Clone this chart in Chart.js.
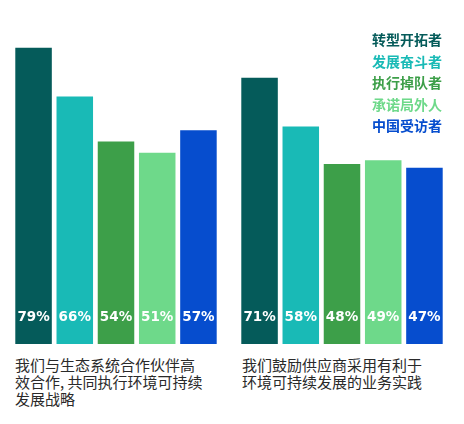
<!DOCTYPE html>
<html>
<head>
<meta charset="utf-8">
<script src="https://cdn.jsdelivr.net/npm/chart.js@4"></script>
<style>
    body { margin: 0; background: #fff; width: 464px; height: 424px; position: relative; overflow: hidden; }
    #wrap { position: absolute; left: 0; top: 0; width: 464px; height: 344px; }
    #legend { position: absolute; left: 372px; top: 29px; font-family: "Noto Sans CJK SC", sans-serif; font-weight: bold; font-size: 14px; line-height: 21.5px; }
    .caption { position: absolute; top: 356px; font-family: "Noto Sans CJK SC", sans-serif; font-size: 15px; line-height: 17px; color: #2a2a2a; }
</style>
</head>
<body>
<div id="wrap"><canvas id="grafico"></canvas></div>
<div id="legend"></div>
<div class="caption" style="left:15px; width:200px;">我们与生态系统合作伙伴高<br>效合作, 共同执行环境可持续<br>发展战略</div>
<div class="caption" style="left:242px; width:210px;">我们鼓励供应商采用有利于<br>环境可持续发展的业务实践</div>
<script>
const categorias = ['我们与生态系统合作伙伴高效合作，共同执行环境可持续发展战略', '我们鼓励供应商采用有利于环境可持续发展的业务实践'];
const series = ['转型开拓者', '发展奋斗者', '执行掉队者', '承诺局外人', '中国受访者'];
const colores = ['#055b5a', '#19bab6', '#3d9f49', '#6ed98a', '#064dce'];
const transformadores = [79, 71];
const luchadores = [66, 58];
const rezagados = [54, 48];
const externos = [51, 49];
const china = [57, 47];
const valores = [transformadores, luchadores, rezagados, externos, china];

// leyenda en html
const legend = document.getElementById('legend');
series.forEach(function(nombre, i) {
    const d = document.createElement('div');
    d.textContent = nombre;
    d.style.color = colores[i];
    legend.appendChild(d);
});

const etiquetas = {
    id: 'etiquetas',
    afterDatasetsDraw(chart) {
        const ctx = chart.ctx;
        const base = chart.scales.y.getPixelForValue(0);
        ctx.save();
        ctx.fillStyle = '#fff';
        ctx.font = 'bold 13.5px "DejaVu Sans"';
        ctx.textAlign = 'center';
        ctx.textBaseline = 'middle';
        chart.data.datasets.forEach(function(ds, i) {
            chart.getDatasetMeta(i).data.forEach(function(bar, j) {
                ctx.fillText(ds.data[j] + '%', bar.x, base - 27);
            });
        });
        ctx.restore();
    }
};

new Chart(document.getElementById('grafico').getContext('2d'), {
    type: 'bar',
    data: {
        labels: categorias,
        datasets: series.map(function(nombre, i) {
            return {
                label: nombre,
                data: valores[i],
                backgroundColor: colores[i],
                borderWidth: 0,
                categoryPercentage: 0.912,
                barPercentage: 0.886
            };
        })
    },
    options: {
        responsive: true,
        maintainAspectRatio: false,
        animation: false,
        layout: { padding: { left: 3, right: 9, top: 0, bottom: 0 } },
        scales: {
            x: { display: false },
            y: { display: false, min: 0, max: 91.7 }
        },
        plugins: {
            legend: { display: false },
            tooltip: { enabled: false }
        }
    },
    plugins: [etiquetas]
});
</script>
</body>
</html>
